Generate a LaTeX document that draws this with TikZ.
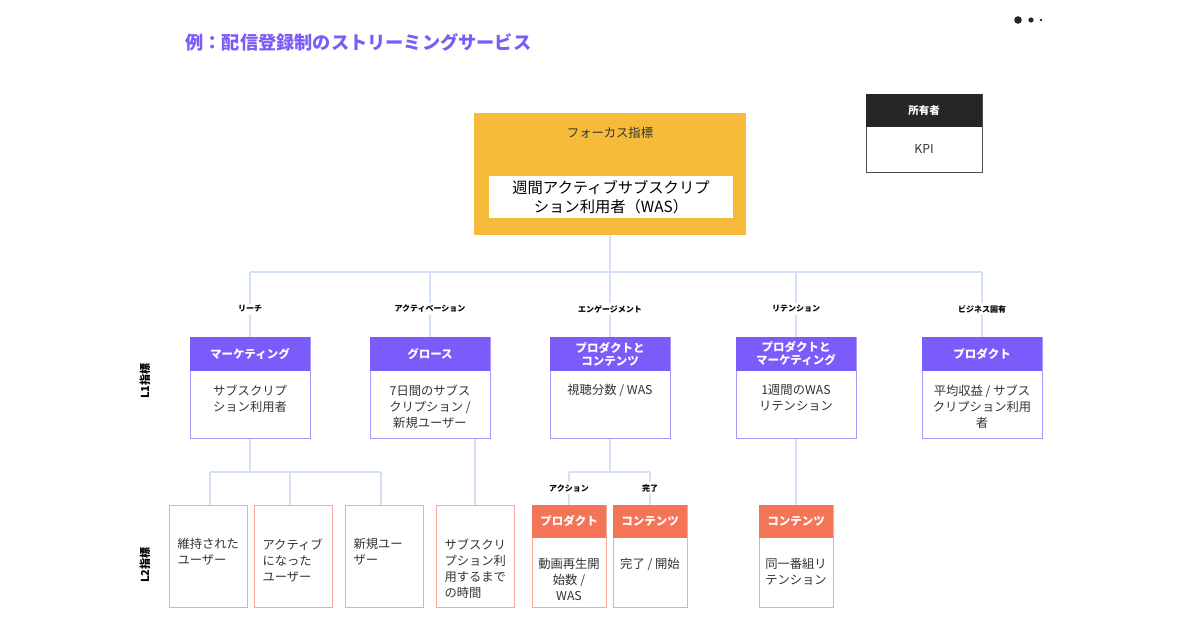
\documentclass[tikz,border=0pt]{standalone}
\usepackage{fontspec}
\setmainfont{Noto Sans CJK JP}
\begin{document}
\begin{tikzpicture}[x=1pt,y=-1pt,
  ln/.style={draw=lnc,line width=1.3pt},
  txt/.style={font=\fontsize{12.3}{16}\selectfont,text=tc,align=center},
  lab/.style={font=\fontsize{8}{10}\selectfont\bfseries,text=black,fill=white,inner sep=2pt},
  hd/.style={font=\fontsize{11.5}{13}\selectfont\bfseries,text=white,align=center}]
\definecolor{pur}{HTML}{7B5CFA}\definecolor{pbd}{HTML}{A996FB}
\definecolor{sal}{HTML}{F47457}\definecolor{sbd}{HTML}{F8A996}
\definecolor{yel}{HTML}{F6BB3A}\definecolor{lnc}{HTML}{D3E0F5}\definecolor{tc}{HTML}{333333}
\useasboundingbox (0,0) rectangle (1200,630);
\fill[white] (0,0) rectangle (1200,630);
\node[anchor=west,font=\fontsize{18.2}{20}\selectfont\bfseries,text=pur] (title) at (182,42) {例：配信登録制のストリーミングサービス};
\fill[black!85] (1018,20) circle (3.8) (1031,20) circle (2.6) (1041,20) circle (1.4);
% owner
\draw[black!70,fill=white] (866,94) rectangle (982,172);
\fill[black!85] (866,94) rectangle (982,127);
\node[hd,font=\fontsize{10.5}{12}\selectfont\bfseries] (own) at (924,110.5) {所有者};
\node[txt] (kpi) at (924,149) {KPI};
% tree lines
\coordinate (t0) at (610,235); \coordinate (t1) at (610,272);
\draw[ln] (t0)--(t1) (250,272)--(982,272);
\foreach \x in {250,430,610,796,982}{\draw[ln] (\x,272)--(\x,337);}
\draw[ln] (250,438)--(250,472) (210,472)--(381,472);
\foreach \x in {210,290}{\draw[ln] (\x,472)--(\x,505);}
\draw[ln] (381,472)--(381,505);
\draw[ln] (475,438)--(475,505);
\draw[ln] (610,438)--(610,472) (569,472)--(650,472) (569,472)--(569,505) (650,472)--(650,505);
\draw[ln] (796,438)--(796,505);
% focus
\fill[yel] (474,113) rectangle (746,235);
\node[font=\fontsize{12.3}{14}\selectfont,text=tc] (fl) at (610,133) {フォーカス指標};
\fill[white] (489,176) rectangle (733,218);
\node[txt,font=\fontsize{15.3}{19}\selectfont,text=black] (was) at (611,197) {週間アクティブサブスクリプ\\ション利用者（WAS）};
% L1 labels
\foreach \x/\t in {250/リーチ,430/アクティベーション,610/エンゲージメント,796/リテンション,982/ビジネス固有}
  {\node[lab] at (\x,309) {\t};}
\node[rotate=90,font=\fontsize{11}{13}\selectfont\bfseries] (l1) at (145,381) {L1指標};
\node[rotate=90,font=\fontsize{11}{13}\selectfont\bfseries] (l2) at (145,565) {L2指標};
% L1 boxes
\foreach \x/\h/\b in {250/{マーケティング}/{サブスクリプ\\ション利用者},430/{グロース}/{7日間のサブス\\クリプション /\\新規ユーザー},610/{プロダクトと\\コンテンツ}/{視聴分数 / WAS},796/{プロダクトと\\マーケティング}/{1週間のWAS\\リテンション},982/{プロダクト}/{平均収益 / サブス\\クリプション利用\\者}}{
  \draw[pbd,line width=1pt,fill=white] (\x-60,337) rectangle (\x+60,438);
  \fill[pur] (\x-60,337) rectangle (\x+60,371);
  \node[hd] at (\x,354) {\h};
  \node[txt,anchor=north] at (\x,381) {\b};}
% L2 plain boxes
\foreach \a/\bb/\t in {169/247/{維持された\\ユーザー},254/332/{アクティブ\\になった\\ユーザー},345/423/{新規ユー\\ザー},436/514/{サブスクリ\\プション利\\用するまで\\の時間}}{
  \draw[sbd,line width=1pt,fill=white] (\a,505) rectangle (\bb,607);
  \node[txt,align=left,anchor=north west] at (\a+5,535) {\t};}
\node[lab] at (569,488) {アクション};
\node[lab] at (650,488) {完了};
\foreach \a/\bb/\h/\t in {532/606/{プロダクト}/{動画再生開\\始数 /\\WAS},613/687/{コンテンツ}/{完了 / 開始},759/833/{コンテンツ}/{同一番組リ\\テンション}}{
  \draw[sbd,line width=1pt,fill=white] (\a,505) rectangle (\bb,607);
  \fill[sal] (\a,505) rectangle (\bb,538);
  \node[hd] at ({(\a+\bb)/2},521.5) {\h};
  \node[txt,anchor=north] at ({(\a+\bb)/2},555) {\t};}
\end{tikzpicture}
\end{document}
